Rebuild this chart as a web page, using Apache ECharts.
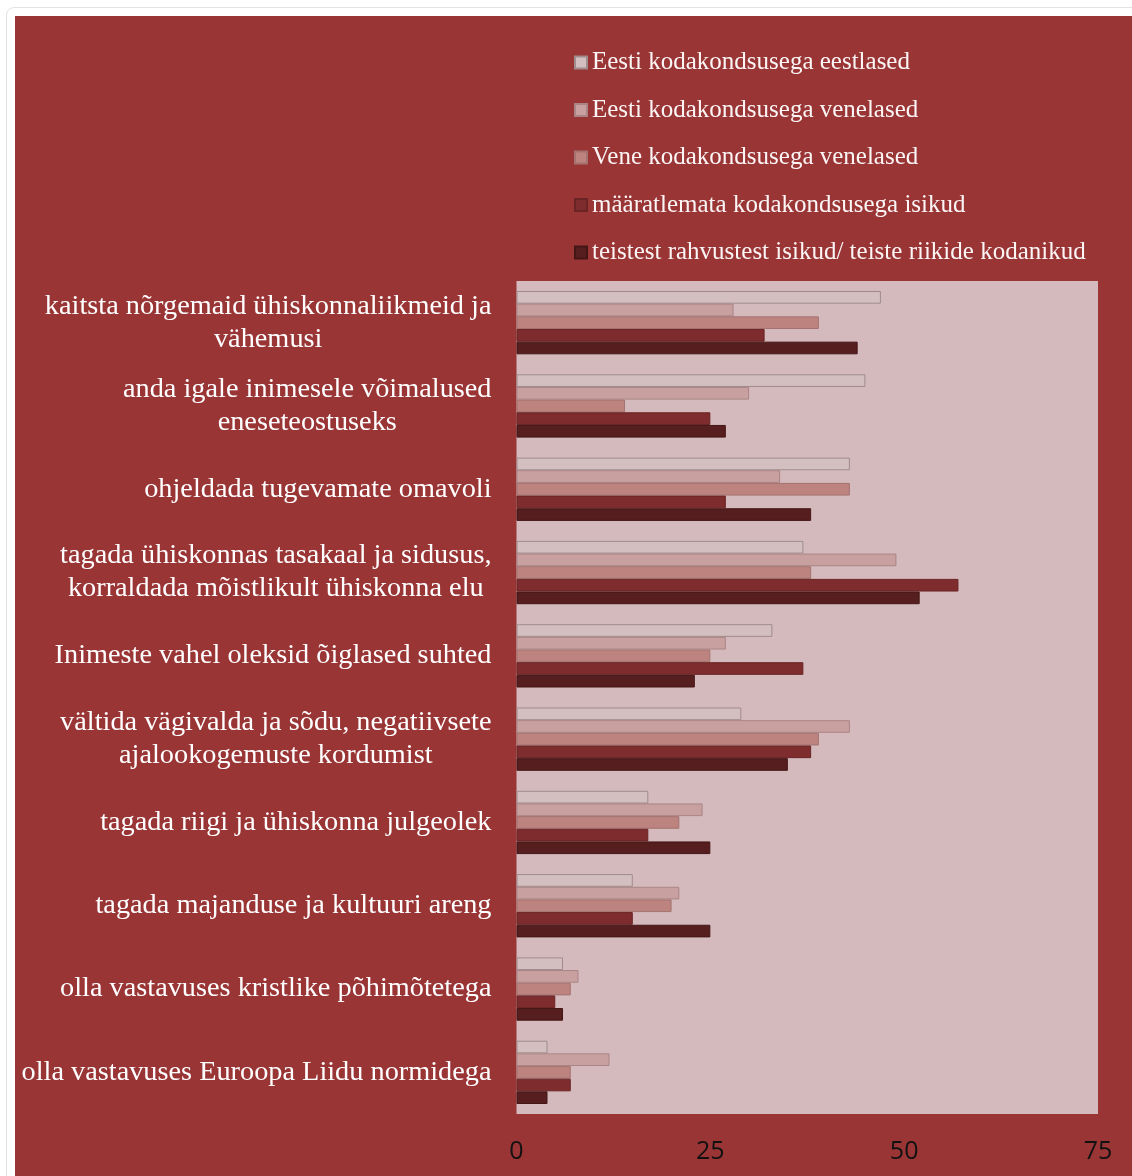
<!DOCTYPE html>
<html><head><meta charset="utf-8">
<script src="https://cdn.jsdelivr.net/npm/echarts@6/dist/echarts.min.js"></script>
<style>
html,body{margin:0;padding:0;background:#ffffff;width:1132px;height:1176px;overflow:hidden;}
#frame{position:absolute;left:6px;top:7px;width:1140px;height:1180px;border:1px solid #e2e2e2;border-radius:8px;}
#chart{position:absolute;left:15px;top:16px;width:1117px;height:1160px;background:#9a3536;}
</style></head>
<body>
<div id="frame"></div>
<div id="chart"></div>
<script>
const categories = [
  "kaitsta nõrgemaid ühiskonnaliikmeid ja\nvähemusi",
  "anda igale inimesele võimalused\neneseteostuseks",
  "ohjeldada tugevamate omavoli",
  "tagada ühiskonnas tasakaal ja sidusus,\nkorraldada mõistlikult ühiskonna elu",
  "Inimeste vahel oleksid õiglased suhted",
  "vältida vägivalda ja sõdu, negatiivsete\najalookogemuste kordumist",
  "tagada riigi ja ühiskonna julgeolek",
  "tagada majanduse ja kultuuri areng",
  "olla vastavuses kristlike põhimõtetega",
  "olla vastavuses Euroopa Liidu normidega"
];
const seriesNames = [
  "Eesti kodakondsusega eestlased",
  "Eesti kodakondsusega venelased",
  "Vene kodakondsusega venelased",
  "määratlemata kodakondsusega isikud",
  "teistest rahvustest isikud/ teiste riikide kodanikud"
];
const estEst = [47, 45, 43, 37, 33, 29, 17, 15, 6, 4];
const estRus = [28, 30, 34, 49, 27, 43, 24, 21, 8, 12];
const rusRus = [39, 14, 43, 38, 25, 39, 21, 20, 7, 7];
const undetermined = [32, 25, 27, 57, 37, 38, 17, 15, 5, 7];
const others = [44, 27, 38, 52, 23, 35, 25, 25, 6, 4];
const xTicks = [0, 25, 50, 75];

const values = [estEst, estRus, rusRus, undetermined, others];
const fills = ['#d3bfbf', '#c9a0a0', '#bc837f', '#7e2c2d', '#561e1e'];
const borders = ['#a08c8c', '#aa8585', '#a47370', '#6a2425', '#451616'];

const chart = echarts.init(document.getElementById('chart'), null, {renderer: 'canvas'});
const serif = '"Liberation Serif", "DejaVu Serif", serif';
chart.setOption({
  animation: false,
  backgroundColor: 'transparent',
  legend: {
    orient: 'vertical',
    left: 554,
    top: 29,
    itemWidth: 12,
    itemHeight: 12,
    itemGap: 22.5,
    icon: 'rect',
    textStyle: {color: '#fbf5f5', fontFamily: serif, fontSize: 25, lineHeight: 25},
    data: seriesNames
  },
  grid: {
    left: 501.5, right: 34, top: 265, bottom: 62,
    show: true, backgroundColor: '#d4babd', borderWidth: 0
  },
  xAxis: {
    type: 'value', min: 0, max: 75, interval: 25,
    axisLine: {show: false}, axisTick: {show: false}, splitLine: {show: false},
    axisLabel: {
      color: '#111', fontFamily: '"Liberation Sans Narrow", "Open Sans", sans-serif', fontSize: 25, margin: 25,
      formatter: v => xTicks.includes(v) ? String(v) : ''
    }
  },
  yAxis: {
    type: 'category', inverse: true, data: categories,
    axisLine: {show: false}, axisTick: {show: false},
    axisLabel: {
      margin: 25, color: '#ffffff', fontFamily: serif, fontSize: 28.3, lineHeight: 33,
      formatter: v => v.split('\n').map(s => '{c|' + s + '}').join('\n'),
      rich: {c: {align: 'center', color: '#ffffff', fontFamily: serif, fontSize: 28.3, lineHeight: 33}}
    }
  },
  series: values.map((d, i) => ({
    name: seriesNames[i], type: 'bar', data: d,
    barGap: '0%', barCategoryGap: '24%',
    itemStyle: {color: fills[i], borderColor: borders[i], borderWidth: 1}
  }))
});
</script>
</body></html>
